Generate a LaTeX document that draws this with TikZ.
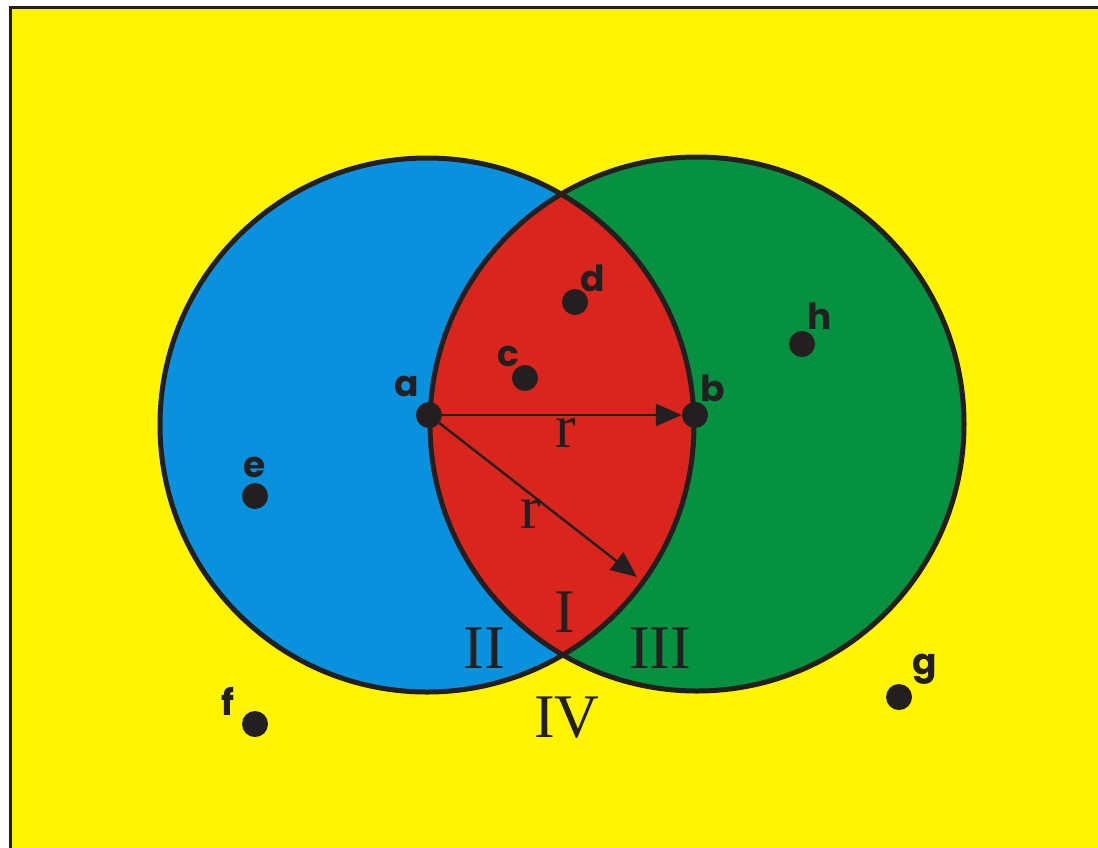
\documentclass[tikz,border=0pt]{standalone}
\usepackage{fontspec}
\setmainfont{Liberation Serif}
\newfontfamily\labfont{Poppins}
\usetikzlibrary{arrows.meta}
\definecolor{bgyellow}{RGB}{255,245,0}
\definecolor{cblue}{RGB}{8,146,221}
\definecolor{cgreen}{RGB}{5,145,64}
\definecolor{cred}{RGB}{218,37,29}
\definecolor{ink}{RGB}{35,31,32}
\tikzset{
  dot/.style={circle,fill=ink,minimum size=26pt,inner sep=0pt},
  lab/.style={font=\labfont\bfseries\fontsize{36}{36}\selectfont,text=ink,inner sep=0pt},
  roman/.style={font=\fontsize{62}{62}\selectfont,text=ink,inner sep=0pt},
  outline/.style={draw=ink,line width=5pt},
  radius arrow/.style={draw=ink,line width=2.4pt,-{Triangle[length=26pt,width=22pt]}}
}
\begin{document}
\begin{tikzpicture}[x=1pt,y=-1pt]
\useasboundingbox (0,0) rectangle (1098,847);
% background
\fill[white] (0,0) rectangle (1098,847);
\fill[bgyellow] (10,7) rectangle (1100,850);
\draw[ink,line width=3pt] (10,850) -- (10,7) -- (1100,7);
% circles
\fill[cblue] (427,425) circle[radius=267];
\fill[cgreen] (697,424) circle[radius=267];
\begin{scope}
  \clip (427,425) circle[radius=267];
  \fill[cred] (697,424) circle[radius=267];
\end{scope}
\draw[outline] (427,425) circle[radius=267];
\draw[outline] (697,424) circle[radius=267];
% points
\node[dot] (a) at (429,415) {};
\node[dot] (b) at (695,415) {};
\node[dot] (c) at (525,378) {};
\node[dot] (d) at (575,302) {};
\node[dot] (e) at (255,496) {};
\node[dot] (f) at (255,724) {};
\node[dot] (g) at (899,697) {};
\node[dot] (h) at (802,344) {};
\coordinate (rend) at (637,577);
% arrows
\draw[radius arrow] (a) -- (b);
\draw[radius arrow] (a) -- (rend);
% labels
\node[lab] (la) at (407,386) {a};
\node[lab] (lb) at (713,388) {b};
\node[lab] (lc) at (508,356) {c};
\node[lab] (ld) at (593,278) {d};
\node[lab] (le) at (255,467) {e};
\node[lab] (lf) at (228,701) {f};
\node[lab] (lg) at (925,669) {g};
\node[lab] (lh) at (820,316) {h};
\node[roman] (r1) at (566,433) {r};
\node[roman] (r2) at (531,514) {r};
\node[roman] (n1) at (565,612) {I};
\node[roman] (n2) at (484,648) {II};
\node[roman] (n3) at (660,648) {III};
\node[roman] (n4) at (567,718) {IV};
\end{tikzpicture}
\end{document}
